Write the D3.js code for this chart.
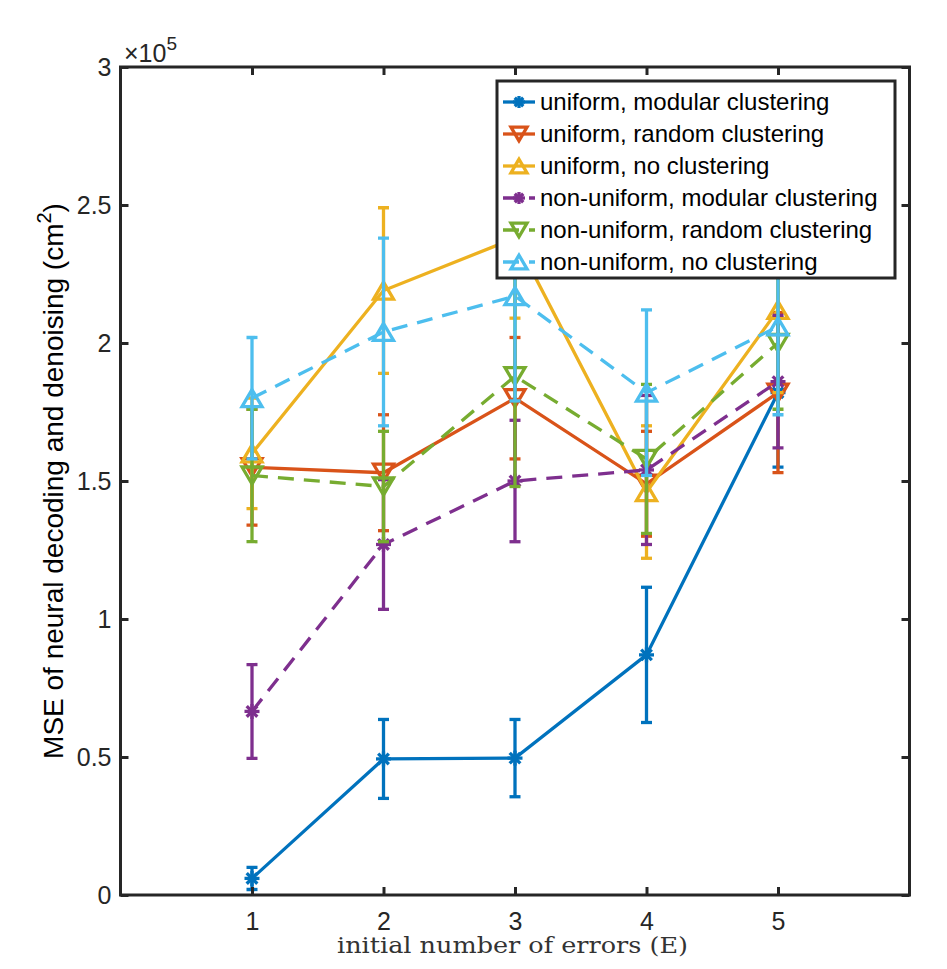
<!DOCTYPE html>
<html><head><meta charset="utf-8">
<script src="https://cdn.jsdelivr.net/npm/d3@7"></script>
<style>body{margin:0;background:#fff}</style>
</head><body><svg id="c" width="947" height="969"></svg>
<script>
const xValues = [1, 2, 3, 4, 5];
const seriesNames = ["uniform, modular clustering","uniform, random clustering","uniform, no clustering","non-uniform, modular clustering","non-uniform, random clustering","non-uniform, no clustering"];
const seriesColors = ["#0072BD","#D95319","#EDB120","#7E2F8E","#77AC30","#4DBEEE"];
const seriesMarkers = ["star","down","up","star","down","up"];
const seriesDashed = [false,false,false,true,true,true];
// values in units of 1e5 cm^2
const uniformModular = [0.06, 0.493, 0.496, 0.87, 1.82];
const uniformModularErr = [0.04, 0.143, 0.14, 0.245, 0.27];
const uniformRandom = [1.55, 1.53, 1.80, 1.49, 1.82];
const uniformRandomErr = [0.21, 0.21, 0.22, 0.19, 0.29];
const uniformNone = [1.60, 2.19, 2.38, 1.46, 2.12];
const uniformNoneErr = [0.20, 0.30, 0.29, 0.24, 0.30];
const nonUniformModular = [0.665, 1.27, 1.50, 1.54, 1.86];
const nonUniformModularErr = [0.17, 0.235, 0.22, 0.27, 0.24];
const nonUniformRandom = [1.52, 1.48, 1.88, 1.58, 2.00];
const nonUniformRandomErr = [0.24, 0.20, 0.40, 0.27, 0.24];
const nonUniformNone = [1.80, 2.04, 2.17, 1.82, 2.06];
const nonUniformNoneErr = [0.22, 0.34, 0.38, 0.30, 0.32];
const yTicks = [0, 0.5, 1, 1.5, 2, 2.5, 3];
const yTickLabels = ["0","0.5","1","1.5","2","2.5","3"];

const means = [uniformModular, uniformRandom, uniformNone, nonUniformModular, nonUniformRandom, nonUniformNone];
const errs = [uniformModularErr, uniformRandomErr, uniformNoneErr, nonUniformModularErr, nonUniformRandomErr, nonUniformNoneErr];

const svg = d3.select("#c");
const L = 120.5, R = 909.5, T = 67, B = 895;
const x = d3.scaleLinear().domain([0, 6]).range([L, R]);
const y = d3.scaleLinear().domain([0, 3]).range([B, T]);
const font = "'Liberation Sans', Arial, Helvetica, sans-serif";
const axCol = "#262626";
const LW = 3.3;

svg.append("defs").append("clipPath").attr("id","clip").append("rect")
  .attr("x", L).attr("y", T).attr("width", R-L).attr("height", B-T);

function drawMarker(g, type, cx, cy, color, s) {
  s = s || 1;
  if (type === "star") {
    const r = 7.5 * s;
    for (let a = 0; a < 180; a += 45) {
      const rad = a * Math.PI / 180;
      g.append("line").attr("x1", cx - r*Math.cos(rad)).attr("y1", cy - r*Math.sin(rad))
        .attr("x2", cx + r*Math.cos(rad)).attr("y2", cy + r*Math.sin(rad))
        .attr("stroke", color).attr("stroke-width", LW);
    }
    g.append("circle").attr("cx", cx).attr("cy", cy).attr("r", 3.5*s).attr("fill", color);
  } else {
    const w = 10 * s, h = 8.5 * s;
    const sign = type === "up" ? 1 : -1;
    const pts = [[cx, cy - sign*h],[cx - w, cy + sign*h],[cx + w, cy + sign*h]];
    g.append("path").attr("d", d3.line()(pts) + "Z").attr("fill", "none")
      .attr("stroke", color).attr("stroke-width", LW).attr("stroke-linejoin","miter");
  }
}

const plot = svg.append("g").attr("clip-path", "url(#clip)");
means.forEach((m, i) => {
  const g = plot.append("g");
  const c = seriesColors[i];
  m.forEach((v, j) => {
    const e = errs[i][j];
    const xx = x(xValues[j]);
    g.append("line").attr("x1", xx).attr("x2", xx).attr("y1", y(v - e)).attr("y2", y(v + e))
      .attr("stroke", c).attr("stroke-width", LW);
    [v - e, v + e].forEach(t => {
      g.append("line").attr("x1", xx - 5.5).attr("x2", xx + 5.5).attr("y1", y(t)).attr("y2", y(t))
        .attr("stroke", c).attr("stroke-width", LW);
    });
  });
  g.append("path").datum(m)
    .attr("d", d3.line().x((d, j) => x(xValues[j])).y(d => y(d)))
    .attr("fill", "none").attr("stroke", c).attr("stroke-width", LW)
    .attr("stroke-dasharray", seriesDashed[i] ? "16,10" : null);
  m.forEach((v, j) => drawMarker(g, seriesMarkers[i], x(xValues[j]), y(v), c));
});

const box = svg.append("g");
box.append("rect").attr("x", L).attr("y", T).attr("width", R-L).attr("height", B-T)
  .attr("fill","none").attr("stroke", axCol).attr("stroke-width", 3);

const yAxis = d3.axisLeft(y).tickValues(yTicks).tickFormat((d,i) => yTickLabels[i]).tickSize(-8).tickPadding(9);
const ya = svg.append("g").attr("transform", `translate(${L},0)`).call(yAxis);
const yaR = svg.append("g").attr("transform", `translate(${R},0)`).call(d3.axisRight(y).tickValues(yTicks).tickSize(-8).tickFormat(""));
const xAxis = d3.axisBottom(x).tickValues(xValues).tickFormat(d3.format("d")).tickSize(-8).tickPadding(17);
const xa = svg.append("g").attr("transform", `translate(0,${B})`).call(xAxis);
const xaT = svg.append("g").attr("transform", `translate(0,${T})`).call(d3.axisTop(x).tickValues(xValues).tickSize(-8).tickFormat(""));
[ya, yaR, xa, xaT].forEach(a => {
  a.select(".domain").remove();
  a.selectAll("line").attr("stroke", axCol).attr("stroke-width", 3);
  a.selectAll("text").attr("font-family", font).attr("font-size", 25).attr("fill", axCol);
});

const mt = svg.append("text").attr("x", 124).attr("y", 62).attr("font-family", font).attr("font-size", 25).attr("fill", axCol);
mt.append("tspan").text("\u00d710");
mt.append("tspan").attr("dy", -12).attr("font-size", 19).text("5");

const yl = svg.append("text").attr("transform", "translate(63,481) rotate(-90)").attr("text-anchor","middle")
  .attr("font-family", font).attr("font-size", 28).attr("fill", "#000");
yl.append("tspan").text("MSE of neural decoding and denoising (cm");
yl.append("tspan").attr("dy", -12).attr("font-size", 20).text("2");
yl.append("tspan").attr("dy", 12).text(")");

svg.append("text").attr("x", 512.5).attr("y", 953).attr("text-anchor","middle")
  .attr("font-family", "'DejaVu Serif', 'Liberation Serif', serif").attr("font-size", 22).attr("fill", "#333")
  .attr("textLength", 351).attr("lengthAdjust", "spacingAndGlyphs")
  .text("initial number of errors (E)");

const lg = svg.append("g");
lg.append("rect").attr("x", 497).attr("y", 81).attr("width", 398).attr("height", 197)
  .attr("fill", "#fff").attr("stroke", axCol).attr("stroke-width", 3);
seriesNames.forEach((n, i) => {
  const yy = 102 + i * 32;
  const c = seriesColors[i];
  lg.append("line").attr("x1", 503).attr("x2", 535).attr("y1", yy).attr("y2", yy)
    .attr("stroke", c).attr("stroke-width", LW).attr("stroke-dasharray", seriesDashed[i] ? "16,10" : null);
  drawMarker(lg, seriesMarkers[i], 519, yy, c, 0.8);
  lg.append("text").attr("x", 540).attr("y", yy + 8).attr("font-family", font).attr("font-size", 24)
    .attr("fill", "#000").text(n);
});
</script>
</body></html>
